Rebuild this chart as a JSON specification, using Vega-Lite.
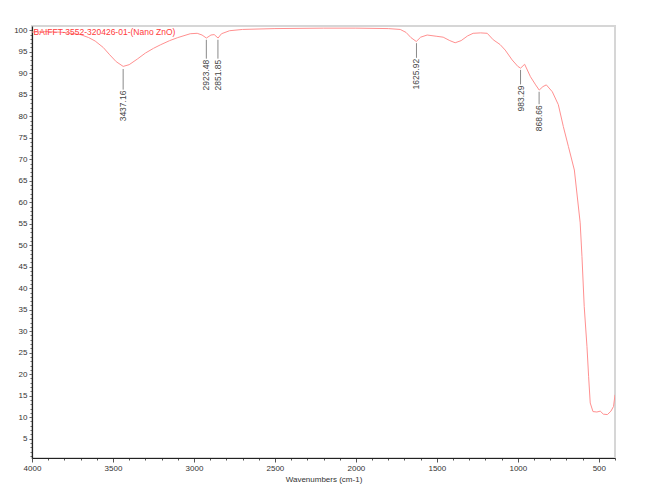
{
  "$schema": "https://vega.github.io/schema/vega-lite/v6.json",
  "width": 583,
  "height": 432,
  "autosize": {"type": "none"},
  "padding": {"left": 32, "top": 26, "right": 33, "bottom": 27},
  "background": "white",
  "config": {
    "view": {"stroke": "#d6d6d6", "strokeWidth": 2},
    "font": "Liberation Sans"
  },
  "datasets": {
    "spectrum": [
      {"wn": 4000, "t": 99.6}, {"wn": 3900, "t": 99.7}, {"wn": 3800, "t": 99.5}, {"wn": 3700, "t": 99.0},
      {"wn": 3650, "t": 98.3}, {"wn": 3610, "t": 97.5}, {"wn": 3560, "t": 96.0}, {"wn": 3520, "t": 94.3},
      {"wn": 3480, "t": 92.7}, {"wn": 3437, "t": 91.6}, {"wn": 3400, "t": 92.0}, {"wn": 3350, "t": 93.3},
      {"wn": 3300, "t": 94.7}, {"wn": 3250, "t": 95.8}, {"wn": 3208, "t": 96.6}, {"wn": 3150, "t": 97.6},
      {"wn": 3100, "t": 98.3}, {"wn": 3023, "t": 99.2}, {"wn": 2980, "t": 99.3}, {"wn": 2950, "t": 98.9},
      {"wn": 2923, "t": 98.2}, {"wn": 2895, "t": 98.9}, {"wn": 2875, "t": 99.0}, {"wn": 2851, "t": 98.2},
      {"wn": 2830, "t": 99.2}, {"wn": 2780, "t": 99.9}, {"wn": 2700, "t": 100.2}, {"wn": 2500, "t": 100.4},
      {"wn": 2200, "t": 100.5}, {"wn": 2000, "t": 100.5}, {"wn": 1800, "t": 100.4}, {"wn": 1726, "t": 100.2},
      {"wn": 1690, "t": 99.5}, {"wn": 1660, "t": 98.3}, {"wn": 1627, "t": 97.4}, {"wn": 1600, "t": 98.4},
      {"wn": 1560, "t": 98.9}, {"wn": 1500, "t": 98.6}, {"wn": 1461, "t": 98.4}, {"wn": 1420, "t": 97.6},
      {"wn": 1387, "t": 97.1}, {"wn": 1350, "t": 97.6}, {"wn": 1310, "t": 98.7}, {"wn": 1276, "t": 99.3},
      {"wn": 1230, "t": 99.4}, {"wn": 1189, "t": 99.3}, {"wn": 1152, "t": 97.8}, {"wn": 1110, "t": 96.7},
      {"wn": 1078, "t": 95.4}, {"wn": 1035, "t": 93.1}, {"wn": 1000, "t": 91.6}, {"wn": 983, "t": 91.2},
      {"wn": 958, "t": 92.1}, {"wn": 922, "t": 89.2}, {"wn": 890, "t": 87.3}, {"wn": 868, "t": 86.1},
      {"wn": 845, "t": 86.9}, {"wn": 824, "t": 87.3}, {"wn": 787, "t": 85.7}, {"wn": 750, "t": 82.7},
      {"wn": 719, "t": 77.6}, {"wn": 688, "t": 73.0}, {"wn": 651, "t": 67.5}, {"wn": 615, "t": 55.2},
      {"wn": 604, "t": 47.4}, {"wn": 590, "t": 35.7}, {"wn": 573, "t": 26.4}, {"wn": 563, "t": 19.5},
      {"wn": 553, "t": 13.3}, {"wn": 536, "t": 11.3}, {"wn": 512, "t": 11.2}, {"wn": 491, "t": 11.4},
      {"wn": 472, "t": 10.7}, {"wn": 447, "t": 10.6}, {"wn": 425, "t": 11.4}, {"wn": 409, "t": 12.5},
      {"wn": 400, "t": 15.2}
    ],
    "peaks": [
      {"wn": 3437.16, "lab": "3437.16", "y1": 91.0, "y2": 86.2},
      {"wn": 2923.48, "lab": "2923.48", "y1": 97.8, "y2": 93.4},
      {"wn": 2851.85, "lab": "2851.85", "y1": 97.8, "y2": 93.4},
      {"wn": 1625.92, "lab": "1625.92", "y1": 97.0, "y2": 93.6},
      {"wn": 983.29, "lab": "983.29", "y1": 90.8, "y2": 87.4},
      {"wn": 868.66, "lab": "868.66", "y1": 85.7, "y2": 82.8}
    ],
    "name": [
      {"wn": 3990, "t": 99.6, "lab": "BAIFFT-3552-320426-01-(Nano ZnO)"}
    ]
  },
  "layer": [
    {
      "data": {"name": "spectrum"},
      "mark": {"type": "line", "color": "#ff9090", "strokeWidth": 1, "clip": true},
      "encoding": {
        "x": {
          "field": "wn", "type": "quantitative",
          "scale": {"domain": [400, 4000], "reverse": true, "nice": false, "zero": false},
          "axis": {
            "title": "Wavenumbers (cm-1)",
            "titleFontSize": 8, "titleFontWeight": "normal", "titleColor": "#333", "titlePadding": 3,
            "values": [400,500,600,700,800,900,1000,1100,1200,1300,1400,1500,1600,1700,1800,1900,2000,2100,2200,2300,2400,2500,2600,2700,2800,2900,3000,3100,3200,3300,3400,3500,3600,3700,3800,3900,4000],
            "tickCount": 100,
            "labelExpr": "datum.value % 500 === 0 ? format(datum.value, 'd') : ''",
            "labelOverlap": false,
            "labelFontSize": 8, "labelColor": "#333", "labelPadding": 2, "labelFlush": false,
            "domainColor": "#222", "domainWidth": 1.2,
            "tickColor": "#555",
            "tickSize": {"condition": {"test": "datum.value % 500 === 0", "value": 4}, "value": 2},
            "grid": false
          }
        },
        "y": {
          "field": "t", "type": "quantitative",
          "scale": {"domain": [0.5, 101], "nice": false, "zero": false},
          "axis": {
            "title": null,
            "values": [1,2,3,4,5,6,7,8,9,10,11,12,13,14,15,16,17,18,19,20,21,22,23,24,25,26,27,28,29,30,31,32,33,34,35,36,37,38,39,40,41,42,43,44,45,46,47,48,49,50,51,52,53,54,55,56,57,58,59,60,61,62,63,64,65,66,67,68,69,70,71,72,73,74,75,76,77,78,79,80,81,82,83,84,85,86,87,88,89,90,91,92,93,94,95,96,97,98,99,100],
            "tickCount": 200,
            "labelExpr": "datum.value % 5 === 0 ? format(datum.value, 'd') : ''",
            "labelOverlap": false,
            "labelFontSize": 8, "labelColor": "#333", "labelPadding": 2,
            "domainColor": "#222", "domainWidth": 1.2,
            "tickColor": "#666",
            "tickSize": {"condition": {"test": "datum.value % 5 === 0", "value": 3}, "value": 2},
            "grid": false
          }
        }
      }
    },
    {
      "data": {"name": "peaks"},
      "mark": {"type": "rule", "color": "#8a8a8a", "strokeWidth": 1},
      "encoding": {
        "x": {"field": "wn", "type": "quantitative"},
        "y": {"field": "y1", "type": "quantitative"},
        "y2": {"field": "y2"}
      }
    },
    {
      "data": {"name": "peaks"},
      "mark": {"type": "text", "angle": 270, "align": "right", "baseline": "middle", "fontSize": 8.5, "color": "#444", "dx": -1},
      "encoding": {
        "x": {"field": "wn", "type": "quantitative"},
        "y": {"field": "y2", "type": "quantitative"},
        "text": {"field": "lab"}
      }
    },
    {
      "data": {"name": "name"},
      "mark": {"type": "text", "align": "left", "baseline": "middle", "fontSize": 8.5, "color": "#ff3a3a"},
      "encoding": {
        "x": {"field": "wn", "type": "quantitative"},
        "y": {"field": "t", "type": "quantitative"},
        "text": {"field": "lab"}
      }
    }
  ]
}
